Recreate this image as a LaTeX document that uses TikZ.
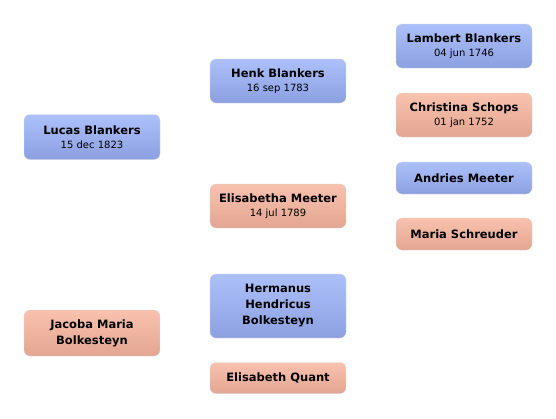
\documentclass[tikz,border=0pt]{standalone}
\usepackage{fontspec}
\setmainfont{DejaVu Sans}
\definecolor{btop}{RGB}{172,192,250}
\definecolor{bbot}{RGB}{140,160,225}
\definecolor{stop}{RGB}{249,194,174}
\definecolor{sbot}{RGB}{226,166,146}
\tikzset{
  person/.style={rounded corners=6pt, minimum width=136pt, align=center, inner sep=0pt,
    font=\fontsize{11.5}{16}\selectfont\bfseries, draw=white!85!black, line width=0.3pt},
  male/.style={person, top color=btop, bottom color=bbot},
  female/.style={person, top color=stop, bottom color=sbot},
}
\newcommand{\pdate}[1]{\\[-2pt]{\fontsize{10}{11}\selectfont\mdseries #1}}
\begin{document}
\begin{tikzpicture}[x=1pt,y=-1pt]
\useasboundingbox (0,0) rectangle (556,418);
\node[male, minimum height=45pt] (lucas) at (92,137) {Lucas Blankers\pdate{15 dec 1823}};
\node[female, minimum height=46pt] (jacoba) at (92,333) {Jacoba Maria\\Bolkesteyn};
\node[male, minimum height=44pt] (henk) at (278,81) {Henk Blankers\pdate{16 sep 1783}};
\node[female, minimum height=44pt] (elisabetha) at (278,206) {Elisabetha Meeter\pdate{14 jul 1789}};
\node[male, minimum height=64pt] (hermanus) at (278,306) {Hermanus\\Hendricus\\Bolkesteyn};
\node[female, minimum height=31pt] (quant) at (278,378) {Elisabeth Quant};
\node[male, minimum height=44pt] (lambert) at (464,46) {Lambert Blankers\pdate{04 jun 1746}};
\node[female, minimum height=44pt] (christina) at (464,115) {Christina Schops\pdate{01 jan 1752}};
\node[male, minimum height=32pt] (andries) at (464,178) {Andries Meeter};
\node[female, minimum height=32pt] (maria) at (464,234) {Maria Schreuder};
\end{tikzpicture}
\end{document}
